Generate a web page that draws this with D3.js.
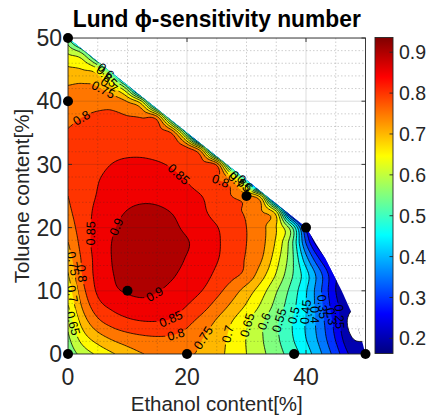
<!DOCTYPE html>
<html><head><meta charset="utf-8">
<script src="https://cdn.jsdelivr.net/npm/d3@7"></script>
<style>
html,body{margin:0;padding:0;background:#fff;}
svg{display:block;font-family:"Liberation Sans",Arial,Helvetica,sans-serif;}
</style></head><body>
<svg id="chart" width="430" height="416"></svg>
<script>
// ---------------- data ----------------
const xNodes = [0,2.5,5,7.5,10,12.5,15,17.5,20,22.5,25,27.5,30,32.5,35,37.5,40,42.5,45,47.5,50];
const yNodes = [0,2.5,5,7.5,10,12.5,15,17.5,20,22.5,25,27.5,30,32.5,35,37.5,40,42.5,45,47.5,50];
// sensitivity values, one row per yNode (y = 0 first), one column per xNode
const fieldRows = [
 [0.565,0.62,0.66,0.695,0.725,0.748,0.762,0.765,0.758,0.74,0.715,0.685,0.65,0.612,0.572,0.528,0.475,0.405,0.325,0.24,0.205],
 [0.59,0.675,0.725,0.758,0.778,0.79,0.795,0.792,0.78,0.752,0.722,0.688,0.648,0.605,0.56,0.508,0.45,0.38,0.295,0.205,0.2],
 [0.615,0.72,0.785,0.818,0.837,0.846,0.847,0.84,0.812,0.78,0.742,0.70,0.655,0.608,0.558,0.505,0.445,0.37,0.28,0.188,0.23],
 [0.645,0.758,0.83,0.86,0.876,0.884,0.882,0.872,0.848,0.818,0.78,0.738,0.692,0.64,0.582,0.52,0.45,0.362,0.265,0.205,0.21],
 [0.67,0.785,0.858,0.89,0.905,0.91,0.902,0.888,0.872,0.85,0.815,0.775,0.728,0.672,0.605,0.535,0.455,0.355,0.25,0.20,0.2],
 [0.695,0.805,0.865,0.898,0.918,0.926,0.922,0.905,0.885,0.868,0.84,0.812,0.785,0.72,0.645,0.56,0.47,0.36,0.25,0.2,0.2],
 [0.725,0.81,0.868,0.902,0.925,0.935,0.933,0.918,0.896,0.872,0.853,0.825,0.795,0.753,0.67,0.57,0.42,0.29,0.2,0.18,0.18],
 [0.748,0.82,0.872,0.902,0.926,0.935,0.934,0.922,0.904,0.878,0.856,0.83,0.80,0.765,0.69,0.57,0.35,0.2,0.15,0.15,0.15],
 [0.772,0.826,0.868,0.895,0.915,0.925,0.922,0.91,0.89,0.87,0.852,0.828,0.80,0.765,0.70,0.57,0.28,0.1,0.05,0.05,0.05],
 [0.79,0.828,0.862,0.885,0.902,0.91,0.908,0.898,0.88,0.858,0.835,0.815,0.792,0.755,0.66,0.24,0.05,0,0,0,0],
 [0.8,0.828,0.853,0.872,0.885,0.89,0.888,0.878,0.865,0.85,0.828,0.80,0.765,0.66,0.2,0,0,0,0,0,0],
 [0.806,0.828,0.848,0.862,0.87,0.873,0.869,0.86,0.848,0.828,0.805,0.75,0.51,0,0,0,0,0,0,0,0],
 [0.81,0.826,0.84,0.851,0.857,0.858,0.854,0.846,0.836,0.82,0.785,0.43,0.1,0,0,0,0,0,0,0,0],
 [0.81,0.822,0.832,0.838,0.84,0.839,0.834,0.826,0.815,0.68,0.255,0,0,0,0,0,0,0,0,0,0],
 [0.803,0.813,0.822,0.826,0.826,0.822,0.815,0.79,0.52,0.013,0,0,0,0,0,0,0,0,0,0,0],
 [0.79,0.80,0.807,0.807,0.803,0.795,0.76,0.435,0.1,0,0,0,0,0,0,0,0,0,0,0,0],
 [0.772,0.78,0.785,0.78,0.745,0.64,0.28,0,0,0,0,0,0,0,0,0,0,0,0,0,0],
 [0.75,0.755,0.745,0.68,0.52,0.14,0,0,0,0,0,0,0,0,0,0,0,0,0,0,0],
 [0.71,0.70,0.66,0.47,0.1,0,0,0,0,0,0,0,0,0,0,0,0,0,0,0,0],
 [0.65,0.60,0.40,0.1,0,0,0,0,0,0,0,0,0,0,0,0,0,0,0,0,0],
 [0.56,0.35,0.1,0,0,0,0,0,0,0,0,0,0,0,0,0,0,0,0,0,0]
];
// measured blends (ethanol %, toluene %)
const blendEthanol = [0,0,0,20,38,50,10,30,40];
const blendToluene = [50,40,0,0,0,0,10,25,20];
// outline of the interpolated region
const domainOutline = [[0,0],[0,50],[40,20],[43.3,15],[46,10],[48.4,5],[49.3,2.5],[50,0]];
const levels = [0.2,0.25,0.3,0.35,0.4,0.45,0.5,0.55,0.6,0.65,0.7,0.75,0.8,0.85,0.9];
const colorRange = [0.163,0.936];
const xTicks = [0,20,40];
const yTicks = [0,10,20,30,40,50];
const cbarTicks = [0.2,0.3,0.4,0.5,0.6,0.7,0.8,0.9];
// contour labels: level, approximate position (ethanol, toluene)
const contourLabels = [
 [0.9,8.2,20.1],[0.9,14.6,9.4],
 [0.85,18.5,28.3],[0.85,3.8,19.1],[0.85,17.1,6.0],
 [0.8,2.3,37.3],[0.8,25.5,26.5],[0.8,3.0,12.8],[0.8,18,3.5],
 [0.75,5.7,40.2],[0.75,0.9,14.3],[0.75,21.6,3.5],
 [0.7,7.1,42.8],[0.7,1.2,9.6],[0.7,26.4,3.3],[0.7,28.6,27.9],
 [0.65,6.8,44.2],[0.65,1.0,4.9],[0.65,30,4.6],[0.65,29.2,27.5],
 [0.6,6.3,44.7],[0.6,33.1,5.1],[0.6,29.7,27.0],
 [0.55,35.3,5.4],[0.5,37.6,6.2],[0.45,39.6,6.7],[0.4,41.2,6.2],
 [0.35,42.9,7.5],[0.3,44.0,5.9],[0.25,46.0,5.9]
];
const titleText = "Lund \u03D5-sensitivity number";
const xLabel = "Ethanol content[%]";
const yLabel = "Toluene content[%]";

// ---------------- layout ----------------
const M = {left:68, right:365.5, top:38, bottom:354};
const xS = d3.scaleLinear().domain([0,50]).range([M.left, M.right]);
const yS = d3.scaleLinear().domain([0,50]).range([M.bottom, M.top]);
const cS = d3.scaleLinear().domain(colorRange).range([353.5, 37.5]);
const txt = "#262626";

function jet(t){
  t = Math.max(0, Math.min(1, t));
  const c = v => Math.round(255*Math.max(0, Math.min(1, v)));
  return `rgb(${c(1.5-Math.abs(4*t-3))},${c(1.5-Math.abs(4*t-2))},${c(1.5-Math.abs(4*t-1))})`;
}
const levelColor = v => jet((v-colorRange[0])/(colorRange[1]-colorRange[0]));

// ---------------- field sampling (Catmull-Rom on the read grid) ----------------
const nx = xNodes.length, ny = yNodes.length, step = xNodes[1]-xNodes[0];
function node(i,j){
  if (i < 0) return 2*node(0,j) - node(1,j);
  if (i > nx-1) return 2*node(nx-1,j) - node(nx-2,j);
  if (j < 0) return 2*node(i,0) - node(i,1);
  if (j > ny-1) return 2*node(i,ny-1) - node(i,ny-2);
  return fieldRows[j][i];
}
function cr(p0,p1,p2,p3,t){
  return 0.5*((2*p1) + (-p0+p2)*t + (2*p0-5*p1+4*p2-p3)*t*t + (-p0+3*p1-3*p2+p3)*t*t*t);
}
function sample(x,y){
  x = Math.max(0, Math.min(50, x)); y = Math.max(0, Math.min(50, y));
  const gx = x/step, gy = y/step;
  let i = Math.min(nx-2, Math.floor(gx)), j = Math.min(ny-2, Math.floor(gy));
  const tx = gx-i, ty = gy-j;
  const r = [];
  for (let m=-1; m<=2; m++) r.push(cr(node(i-1,j+m),node(i,j+m),node(i+1,j+m),node(i+2,j+m),tx));
  return cr(r[0],r[1],r[2],r[3],ty);
}

const h = 0.25, g0 = -0.5, N = Math.round((51)/h)+1;
const grid = new Float64Array(N*N);
for (let l=0; l<N; l++) for (let k=0; k<N; k++) grid[l*N+k] = sample(g0+k*h, g0+l*h);
const bands = d3.contours().size([N,N]).thresholds(levels)(grid);
const proj = d3.geoTransform({point:function(cx,cy){
  this.stream.point(xS(g0+(cx-0.5)*h), yS(g0+(cy-0.5)*h));
}});
const path = d3.geoPath(proj);

// ---------------- drawing ----------------
const svg = d3.select("#chart");
const defs = svg.append("defs");
defs.append("clipPath").attr("id","dom").append("polygon")
  .attr("points", domainOutline.map(p=>[xS(p[0]),yS(p[1])].join(",")).join(" "));
defs.append("clipPath").attr("id","axclip").append("rect")
  .attr("x",M.left).attr("y",M.top).attr("width",M.right-M.left).attr("height",M.bottom-M.top);
const mask = defs.append("mask").attr("id","lblmask").attr("maskUnits","userSpaceOnUse")
  .attr("x",0).attr("y",0).attr("width",430).attr("height",416);
mask.append("rect").attr("width",430).attr("height",416).attr("fill","#fff");

// filled bands
svg.append("g").attr("clip-path","url(#dom)")
  .selectAll("path").data(bands).join("path")
  .attr("d", path).attr("fill", d=>levelColor(d.value)).attr("stroke","none");

// grid
const gridG = svg.append("g").attr("clip-path","url(#axclip)");
const minorX = d3.range(0,51,5).filter(v=>!xTicks.includes(v));
const minorY = d3.range(0,51,2).filter(v=>!yTicks.includes(v));
gridG.selectAll(".mx").data(minorX).join("line")
  .attr("x1",d=>xS(d)).attr("x2",d=>xS(d)).attr("y1",M.top).attr("y2",M.bottom)
  .attr("stroke","rgba(38,38,38,0.28)").attr("stroke-dasharray","1.5,2").attr("stroke-width",0.8);
gridG.selectAll(".my").data(minorY).join("line")
  .attr("y1",d=>yS(d)).attr("y2",d=>yS(d)).attr("x1",M.left).attr("x2",M.right)
  .attr("stroke","rgba(38,38,38,0.28)").attr("stroke-dasharray","1.5,2").attr("stroke-width",0.8);
gridG.selectAll(".Mx").data(xTicks).join("line")
  .attr("x1",d=>xS(d)).attr("x2",d=>xS(d)).attr("y1",M.top).attr("y2",M.bottom)
  .attr("stroke","rgba(38,38,38,0.16)").attr("stroke-width",1);
gridG.selectAll(".My").data(yTicks).join("line")
  .attr("y1",d=>yS(d)).attr("y2",d=>yS(d)).attr("x1",M.left).attr("x2",M.right)
  .attr("stroke","rgba(38,38,38,0.16)").attr("stroke-width",1);

// contour labels (positions snapped onto their level)
function grad(x,y){ const e=0.05; return [(sample(x+e,y)-sample(x-e,y))/(2*e),(sample(x,y+e)-sample(x,y-e))/(2*e)]; }
const labG = svg.append("g").attr("clip-path","url(#axclip)");
contourLabels.forEach(([lv,x,y])=>{
  for (let it=0; it<20; it++){
    const f = sample(x,y), g = grad(x,y), n2 = g[0]*g[0]+g[1]*g[1];
    if (n2 < 1e-9) break;
    let sx = (lv-f)*g[0]/n2, sy = (lv-f)*g[1]/n2;
    const s = Math.hypot(sx,sy); if (s > 1) { sx/=s; sy/=s; }
    x += sx; y += sy;
  }
  const g = grad(x,y);
  const gpx = g[0]/5.95, gpy = -g[1]/6.32;
  let ang = Math.atan2(-gpx, gpy)*180/Math.PI;
  if (ang > 90) ang -= 180; if (ang < -90) ang += 180;
  const px = xS(x), py = yS(y);
  const t = labG.append("text").attr("transform",`translate(${px},${py}) rotate(${ang})`)
    .attr("text-anchor","middle").attr("dy","0.35em")
    .attr("font-size","12.5px").attr("fill","#000").text(String(lv));
  const len = t.node().getComputedTextLength();
  mask.append("rect").attr("transform",`translate(${px},${py}) rotate(${ang})`)
    .attr("x",-len/2-2).attr("y",-6).attr("width",len+4).attr("height",12).attr("fill","#000");
});

// contour lines
svg.insert("g", () => labG.node()).attr("clip-path","url(#dom)").append("g").attr("mask","url(#lblmask)")
  .selectAll("path").data(bands).join("path")
  .attr("d", path).attr("fill","none").attr("stroke","#000").attr("stroke-width",0.8);

// axes box and ticks
svg.append("rect").attr("x",M.left).attr("y",M.top).attr("width",M.right-M.left).attr("height",M.bottom-M.top)
  .attr("fill","none").attr("stroke",txt).attr("stroke-width",0.9);
const tk = svg.append("g").attr("stroke",txt).attr("stroke-width",0.9);
xTicks.forEach(v=>{
  tk.append("line").attr("x1",xS(v)).attr("x2",xS(v)).attr("y1",M.bottom).attr("y2",M.bottom-4);
  tk.append("line").attr("x1",xS(v)).attr("x2",xS(v)).attr("y1",M.top).attr("y2",M.top+4);
});
yTicks.forEach(v=>{
  tk.append("line").attr("y1",yS(v)).attr("y2",yS(v)).attr("x1",M.left).attr("x2",M.left+4);
  tk.append("line").attr("y1",yS(v)).attr("y2",yS(v)).attr("x1",M.right).attr("x2",M.right-4);
});
svg.append("g").selectAll("text").data(xTicks).join("text")
  .attr("x",d=>xS(d)).attr("y",385).attr("text-anchor","middle")
  .attr("font-size","23px").attr("fill",txt).text(d=>d);
svg.append("g").selectAll("text").data(yTicks).join("text")
  .attr("x",62).attr("y",d=>yS(d)).attr("dy","0.36em").attr("text-anchor","end")
  .attr("font-size","23px").attr("fill",txt).text(d=>d);

// labels and title
svg.append("text").attr("x",(M.left+M.right)/2).attr("y",411).attr("text-anchor","middle")
  .attr("font-size","20.5px").attr("fill",txt).text(xLabel);
svg.append("text").attr("transform",`translate(29,${(M.top+M.bottom)/2}) rotate(-90)`)
  .attr("text-anchor","middle").attr("font-size","20.5px").attr("fill",txt).text(yLabel);
svg.append("text").attr("x",(M.left+M.right)/2).attr("y",27).attr("text-anchor","middle")
  .attr("font-size","23px").attr("font-weight","bold").attr("fill","#000")
  .attr("textLength",288).attr("lengthAdjust","spacingAndGlyphs").text(titleText);

// colorbar
const grd = defs.append("linearGradient").attr("id","jetgrad").attr("x1",0).attr("y1",1).attr("x2",0).attr("y2",0);
d3.range(0,65).forEach(k=>grd.append("stop").attr("offset",k/64).attr("stop-color",jet(k/64)));
svg.append("rect").attr("x",375).attr("y",37.5).attr("width",18).attr("height",316)
  .attr("fill","url(#jetgrad)").attr("stroke",txt).attr("stroke-width",0.9);
const cb = svg.append("g");
cbarTicks.forEach(v=>{
  cb.append("line").attr("x1",393).attr("x2",389.5).attr("y1",cS(v)).attr("y2",cS(v))
    .attr("stroke",txt).attr("stroke-width",0.9);
  cb.append("text").attr("x",399).attr("y",cS(v)).attr("dy","0.36em")
    .attr("font-size","19.5px").attr("fill",txt).text(v.toFixed(1));
});

// measured blend points
svg.append("g").selectAll("circle").data(blendEthanol).join("circle")
  .attr("cx",(d)=>xS(d)).attr("cy",(d,i)=>yS(blendToluene[i])).attr("r",5).attr("fill","#000");
</script>
</body></html>
